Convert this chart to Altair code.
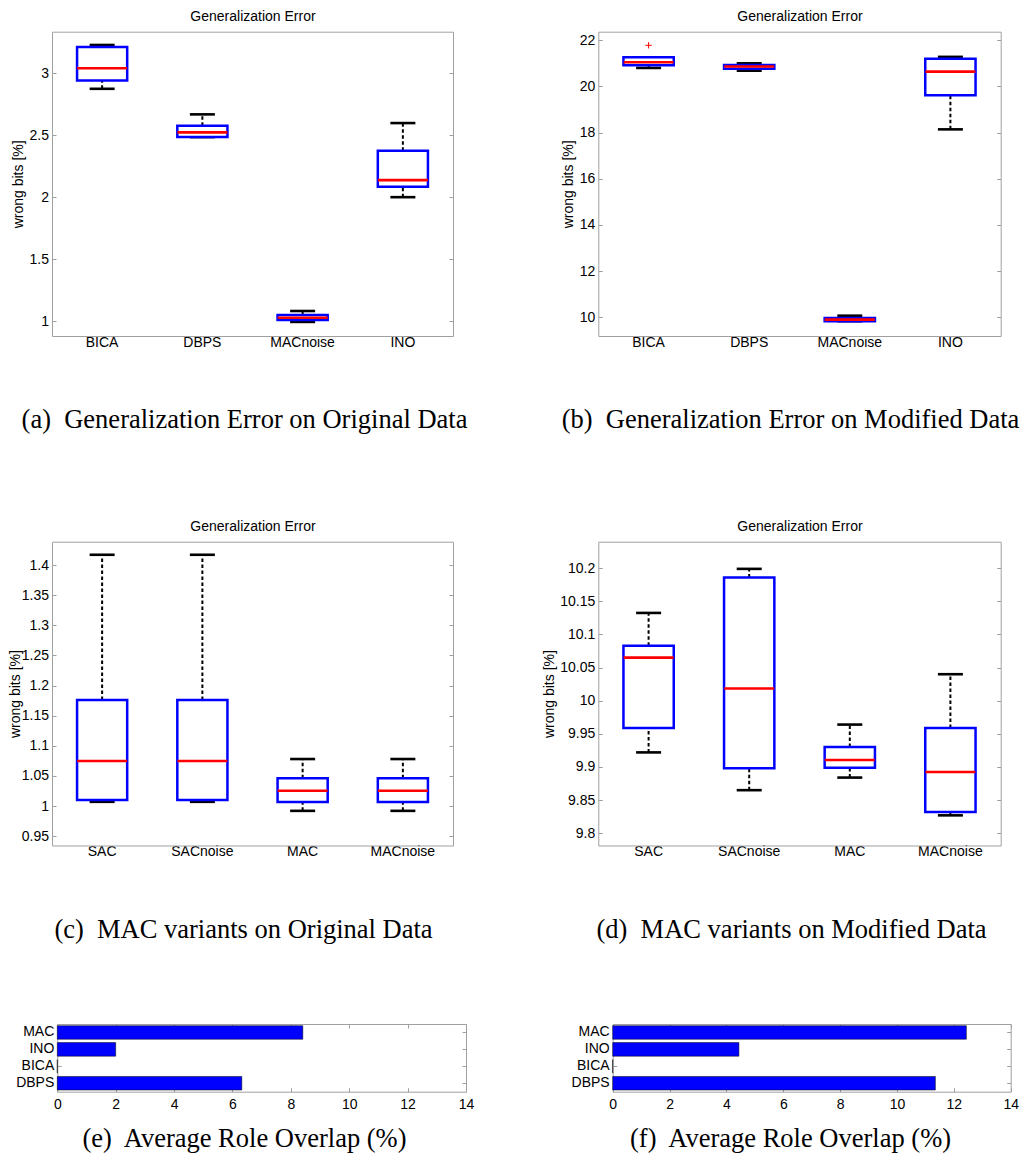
import altair as alt
import pandas as pd

# ---------------- data ----------------
# (a) Generalization Error on Original Data
a_cats = ["BICA", "DBPS", "MACnoise", "INO"]
a_lo = [2.873, 2.484, 0.995, 2.000]
a_q1 = [2.940, 2.484, 1.010, 2.083]
a_med = [3.038, 2.522, 1.029, 2.137]
a_q3 = [3.210, 2.575, 1.050, 2.373]
a_hi = [3.226, 2.667, 1.083, 2.597]
a_yticks = [1, 1.5, 2, 2.5, 3]
a_ydom = [0.8816, 3.333]

# (b) Generalization Error on Modified Data
b_cats = ["BICA", "DBPS", "MACnoise", "INO"]
b_lo = [20.80, 20.68, 9.83, 18.14]
b_q1 = [20.92, 20.77, 9.83, 19.62]
b_med = [21.05, 20.86, 9.90, 20.64]
b_q3 = [21.26, 20.93, 9.97, 21.20]
b_hi = [21.26, 21.00, 10.07, 21.28]
b_out_cat = ["BICA"]
b_out_val = [21.78]
b_yticks = [10, 12, 14, 16, 18, 20, 22]
b_ydom = [9.19, 22.37]

# (c) MAC variants on Original Data
c_cats = ["SAC", "SACnoise", "MAC", "MACnoise"]
c_lo = [1.007, 1.007, 0.992, 0.992]
c_q1 = [1.010, 1.010, 1.0066, 1.0066]
c_med = [1.0748, 1.0748, 1.0254, 1.0254]
c_q3 = [1.176, 1.176, 1.046, 1.046]
c_hi = [1.417, 1.417, 1.078, 1.078]
c_yticks = [0.95, 1.0, 1.05, 1.1, 1.15, 1.2, 1.25, 1.3, 1.35, 1.4]
c_ydom = [0.9345, 1.4387]

# (d) MAC variants on Modified Data
d_cats = ["SAC", "SACnoise", "MAC", "MACnoise"]
d_lo = [9.922, 9.865, 9.884, 9.827]
d_q1 = [9.959, 9.898, 9.899, 9.832]
d_med = [10.065, 10.0185, 9.9106, 9.8925]
d_q3 = [10.083, 10.186, 9.930, 9.959]
d_hi = [10.1325, 10.199, 9.964, 10.040]
d_yticks = [9.8, 9.85, 9.9, 9.95, 10.0, 10.05, 10.1, 10.15, 10.2]
d_ydom = [9.7815, 10.24]

# (e), (f) Average Role Overlap (%)
bar_cats = ["MAC", "INO", "BICA", "DBPS"]
e_vals = [8.41, 2.00, 0.0, 6.32]
f_vals = [12.44, 4.44, 0.0, 11.35]
bar_xticks = [0, 2, 4, 6, 8, 10, 12, 14]
bar_xdom = [0, 14]

captions = [
    "(a)\u00a0 Generalization Error on Original Data",
    "(b)\u00a0 Generalization Error on Modified Data",
    "(c)\u00a0 MAC variants on Original Data",
    "(d)\u00a0 MAC variants on Modified Data",
    "(e)\u00a0 Average Role Overlap (%)",
    "(f)\u00a0 Average Role Overlap (%)",
]

# ---------------- style / layout ----------------
BLUE = "#0000ff"
RED = "#ff0000"
FRAME = "#a0a0a0"
SANS = "Liberation Sans"
SERIF = "Liberation Serif"
FS = 14
CAP_FS = 26.5
TICK = 4
PLUS = "M-1,0L1,0M0,-1L0,1"

# cell geometry: (W, H, x0, x1, y0, y1) of plot frame inside each grid cell
GA = (530, 472, 44, 445, 23.7, 328)
GB = (482, 472, 60.3, 462.7, 23.7, 328)
GC = (530, 510, 44, 445, 61.7, 365.5)
GD = (482, 510, 60.3, 462.7, 61.7, 365.5)
GE = (530, 164, 49.3, 458, 34, 101.7)
GF = (482, 164, 74.7, 472.7, 34, 101.7)


def frame_axis(orient, offset, **kw):
    d = dict(orient=orient, offset=offset, domain=True, domainColor=FRAME, domainWidth=1,
             ticks=False, labels=False, grid=False, title=None, minExtent=0, maxExtent=0)
    d.update(kw)
    return alt.Axis(**d)


def tick_axis(orient, offset, values, labels=False, **kw):
    d = dict(orient=orient, offset=offset, domain=False, ticks=True, tickSize=TICK,
             tickColor=FRAME, tickWidth=1, labels=labels, grid=False, title=None,
             values=values, labelFlush=False)
    d.update(kw)
    return alt.Axis(**d)


def caption_kw(text, cap_x, cap_pad):
    return dict(title=text, titleFont=SERIF, titleFontSize=CAP_FS, titleFontWeight="normal",
                titleBaseline="alphabetic", titlePadding=cap_pad, titleX=cap_x, titleColor="black")


def box_panel(cats, lo, q1, med, q3, hi, out_cat, out_val, dom, yticks, g,
              caption, cap_x, cap_pad, ytitle_pad):
    W, H, x0, x1, y0, y1 = g
    df = pd.DataFrame({"cat": cats, "lo": lo, "q1": q1, "med": med, "q3": q3, "hi": hi})
    xs = alt.Scale(type="band", domain=cats, range=[x0, x1], paddingInner=0.5, paddingOuter=0.25)
    ys = alt.Scale(type="linear", domain=dom, range=[y1, y0], zero=False, nice=False)

    def X(axis):
        return alt.X("cat:N", scale=xs, axis=axis)

    def Y(f, axis):
        return alt.Y(f + ":Q", scale=ys, axis=axis)

    base = alt.Chart(df)
    dash = dict(color="black", strokeWidth=2, strokeDash=[3.5, 2.5], opacity=1)
    w_up = base.mark_rule(**dash).encode(
        x=X(frame_axis("top", -y0, title="Generalization Error", titleFont=SANS,
                       titleFontSize=FS, titleFontWeight="normal", titleBaseline="alphabetic",
                       titlePadding=11, titleColor="black")),
        y=Y("q3", frame_axis("right", -(W - x1))),
        y2="hi",
    )
    w_lo = base.mark_rule(**dash).encode(x=X(None), y=Y("lo", None), y2="q1")
    cap = dict(color="black", size=25, thickness=2.6, opacity=1)
    c_hi = base.mark_tick(**cap).encode(
        x=X(None),
        y=Y("hi", tick_axis("left", -(x0 + TICK), yticks, labels=True, labelPadding=3.5,
                            format="~g")),
    )
    c_lo = base.mark_tick(**cap).encode(
        x=X(None),
        y=Y("lo", tick_axis("right", -(W - x1 + TICK), yticks)),
    )
    box = base.mark_bar(fill="white", stroke=BLUE, strokeWidth=2.5, opacity=1).encode(
        x=X(frame_axis("bottom", -(H - y1), labels=True, tickSize=0, labelPadding=-1,
                       labelAngle=0, **caption_kw(caption, cap_x, cap_pad))),
        y=Y("q1", frame_axis("left", -x0, title="wrong bits [%]", titleFont=SANS,
                             titleFontSize=FS, titleFontWeight="normal",
                             titlePadding=ytitle_pad, titleColor="black")),
        y2="q3",
    )
    med_l = base.mark_tick(color=RED, size=50, thickness=2.6, opacity=1).encode(
        x=X(None), y=Y("med", None))
    layers = [w_up, w_lo, c_hi, c_lo, box, med_l]
    if out_cat:
        odf = pd.DataFrame({"cat": out_cat, "v": out_val})
        layers.append(
            alt.Chart(odf).mark_point(shape=PLUS, size=40, filled=False, stroke=RED,
                                      strokeWidth=1, opacity=1).encode(x=X(None), y=Y("v", None))
        )
    return (alt.layer(*layers)
            .resolve_axis(x="independent", y="independent")
            .properties(width=W, height=H))


def bar_panel(vals, g, caption, cap_x, cap_pad):
    W, H, x0, x1, y0, y1 = g
    df = pd.DataFrame({"cat": bar_cats, "v": vals})
    xs = alt.Scale(domain=bar_xdom, range=[x0, x1], nice=False)
    ys = alt.Scale(type="band", domain=bar_cats, range=[y0, y1], paddingInner=0.2, paddingOuter=0.1)

    def X(axis):
        return alt.X("v:Q", scale=xs, axis=axis)

    def Y(axis):
        return alt.Y("cat:N", scale=ys, axis=axis)

    base = alt.Chart(df)
    bars = base.mark_bar(fill=BLUE, stroke="black", strokeWidth=0.5, opacity=1).encode(
        x=X(frame_axis("bottom", -(H - y1), **caption_kw(caption, cap_x, cap_pad))),
        y=Y(frame_axis("left", -x0)),
    )
    l2 = base.mark_bar(opacity=0).encode(
        x=X(frame_axis("top", -y0)),
        y=Y(frame_axis("right", -(W - x1))),
    )
    l3 = base.mark_bar(opacity=0).encode(
        x=X(tick_axis("bottom", -(H - y1 + TICK), bar_xticks, labels=True, labelPadding=5.5)),
        y=Y(tick_axis("left", -(x0 + TICK), bar_cats, labels=True, labelPadding=3.5)),
    )
    l4 = base.mark_bar(opacity=0).encode(
        x=X(tick_axis("top", -(y0 + TICK), bar_xticks)),
        y=Y(tick_axis("right", -(W - x1 + TICK), bar_cats)),
    )
    return (alt.layer(bars, l2, l3, l4)
            .resolve_axis(x="independent", y="independent")
            .properties(width=W, height=H))


pa = box_panel(a_cats, a_lo, a_q1, a_med, a_q3, a_hi, [], [], a_ydom, a_yticks, GA,
               captions[0], 236, 91, 27)
pb = box_panel(b_cats, b_lo, b_q1, b_med, b_q3, b_hi, b_out_cat, b_out_val, b_ydom, b_yticks, GB,
               captions[1], 252, 91, 23)
pc = box_panel(c_cats, c_lo, c_q1, c_med, c_q3, c_hi, [], [], c_ydom, c_yticks, GC,
               captions[2], 235, 91.5, 30)
pd_ = box_panel(d_cats, d_lo, d_q1, d_med, d_q3, d_hi, [], [], d_ydom, d_yticks, GD,
                captions[3], 253, 91.5, 42)
pe = bar_panel(e_vals, GE, captions[4], 236, 55)
pf = bar_panel(f_vals, GF, captions[5], 252, 55)

chart = (
    alt.concat(pa, pb, pc, pd_, pe, pf, columns=2, bounds="flush", spacing=0)
    .properties(padding=0, background="white")
    .configure_view(stroke=None)
    .configure_axis(labelFont=SANS, labelFontSize=FS, labelColor="black",
                    titleColor="black", labelOverlap=False)
)

chart.save("out.html", embed_options={"renderer": "svg", "actions": False})
